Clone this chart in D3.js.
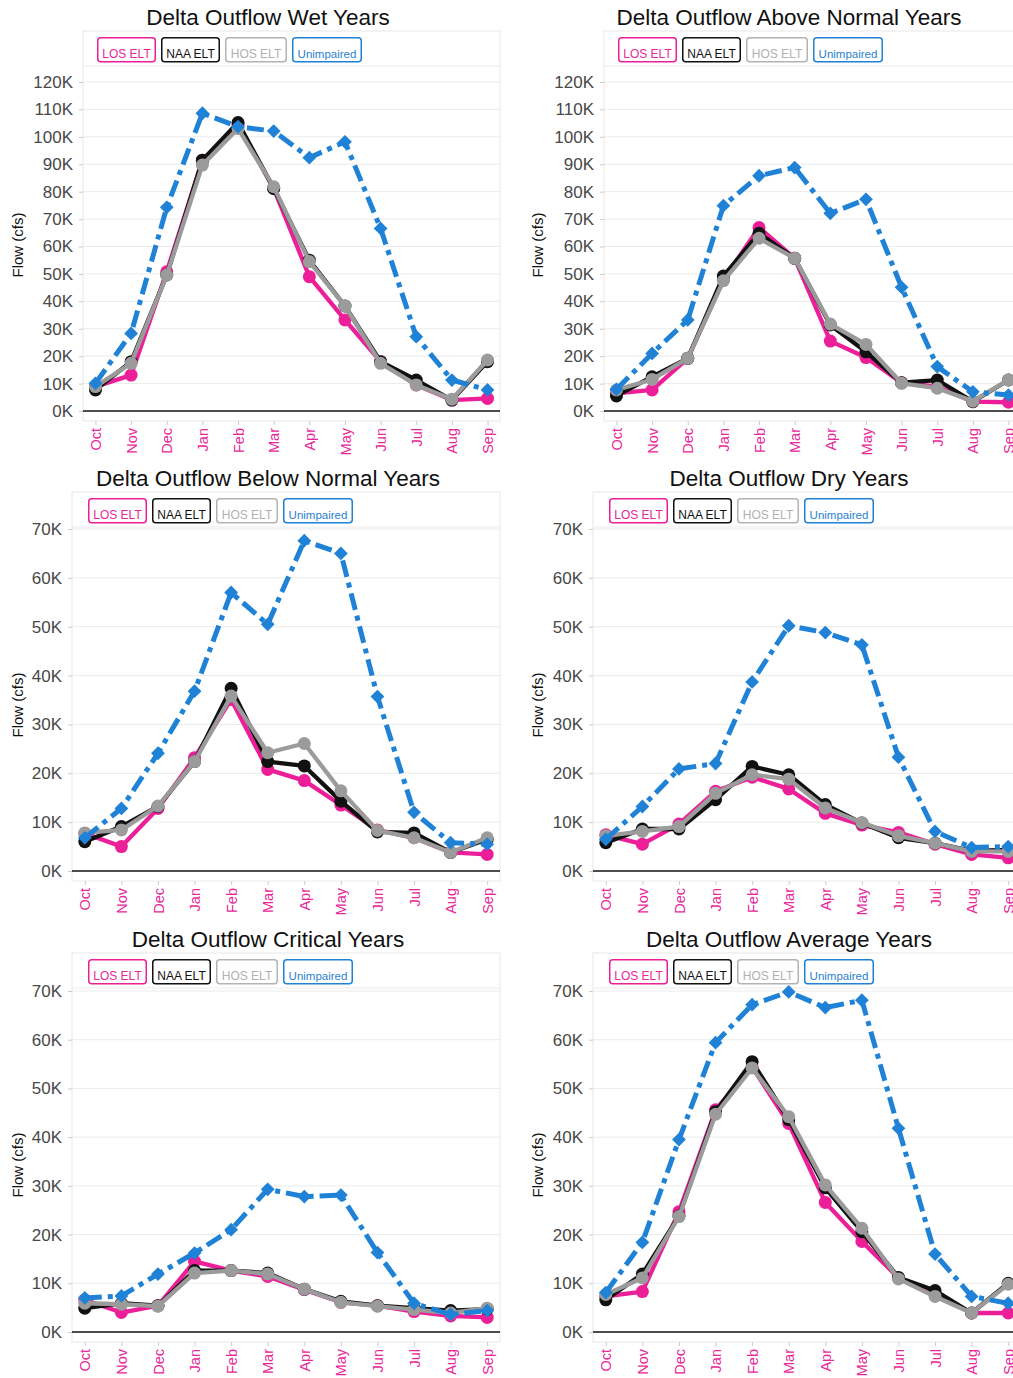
<!DOCTYPE html>
<html><head><meta charset="utf-8">
<script src="https://cdn.jsdelivr.net/npm/d3@7"></script>
<style>
html,body{margin:0;padding:0;background:#fff;overflow:hidden;}
svg{display:block;font-family:"Liberation Sans",Arial,Helvetica,sans-serif;}
</style></head><body>
<svg id="chart" width="1013" height="1378"></svg>
<script>
const months = ["Oct","Nov","Dec","Jan","Feb","Mar","Apr","May","Jun","Jul","Aug","Sep"];
const seriesNames = ["LOS ELT","NAA ELT","HOS ELT","Unimpaired"];
const seriesColors = ["#ec1f98","#111111","#9b9b9b","#1f82d6"];
const legendTextColors = ["#e8279a","#111111","#b0b0b0","#2a7fd0"];
const titles = ["Delta Outflow Wet Years","Delta Outflow Above Normal Years","Delta Outflow Below Normal Years","Delta Outflow Dry Years","Delta Outflow Critical Years","Delta Outflow Average Years"];
const yMaxes = [120,120,70,70,70,70];

// values in thousand cfs
const wetLOS = [8.9,13.1,50.8,91.5,104.3,81.2,49,33.2,18,9.5,4,4.6];
const wetNAA = [7.7,18,49.6,91.5,105.2,81.2,55,38.3,18,11.3,4,18];
const wetHOS = [8.9,17.4,49.6,89.7,103,81.8,54.5,38.3,17.4,9.5,4.3,18.6];
const wetUnimp = [10.1,28.3,74.3,108.6,103.7,102.1,92.4,98.2,66.6,27.1,11.3,7.7];

const anLOS = [6.4,7.7,19.2,47.8,66.9,55.7,25.5,19.5,10.3,8.9,3.4,3.2];
const anNAA = [5.5,12.5,19.2,49.2,64.8,55.7,31.4,21.6,10.3,11.3,3.4,11.3];
const anHOS = [7.7,11.5,19.2,47.5,63,55.7,31.7,24.3,10.1,8.3,3.6,11.3];
const anUnimp = [7.9,21,33.2,74.9,85.8,88.8,72.1,77.2,45.1,16.2,7,5.8];

const bnLOS = [7.7,5,12.8,23.2,35.1,20.8,18.5,13.5,8.4,6.8,3.8,3.4];
const bnNAA = [6,9.1,13.2,22.4,37.4,22.4,21.5,14.3,8,7.8,3.8,6.5];
const bnHOS = [7.8,8.4,13.3,22.4,35.8,24.2,26.1,16.4,8.3,6.8,3.8,6.8];
const bnUnimp = [6.8,12.8,24.1,36.8,57,50.5,67.6,65,35.7,12,5.8,5.5];

const dryLOS = [7.4,5.5,9.6,16.3,19.2,16.8,11.8,9.4,7.9,5.5,3.4,2.7];
const dryNAA = [5.8,8.6,8.6,14.6,21.4,19.7,13.6,9.8,6.8,5.7,4.1,4.3];
const dryHOS = [7.2,8.1,9.1,15.9,19.7,18.8,12.9,9.9,7.2,5.7,4,4];
const dryUnimp = [6.5,13.2,20.9,22,38.7,50.2,48.8,46.3,23.3,8.1,4.8,5];

const critLOS = [6.6,4,5.4,14.5,12.6,11.4,8.7,6.1,5.4,4.2,3.3,3];
const critNAA = [4.9,5.9,5.4,12.6,12.6,12.1,8.8,6.3,5.4,4.9,4.4,4.7];
const critHOS = [5.9,5.7,5.3,12.1,12.6,11.9,8.8,6.1,5.3,4.6,3.9,4.9];
const critUnimp = [7,7.4,11.9,16.2,21,29.3,27.8,28.1,16.3,5.9,3.6,4.4];

const avgLOS = [7.3,8.3,24.7,45.6,54.4,42.8,26.6,18.6,11.1,7.8,3.9,3.9];
const avgNAA = [6.6,11.9,23.8,45.2,55.5,43.6,29.6,20.6,11.2,8.5,3.9,10];
const avgHOS = [7.7,11.1,23.7,44.7,54.2,44.2,30.2,21.3,10.9,7.3,3.9,9.8];
const avgUnimp = [8.1,18.4,39.5,59.4,67.2,69.8,66.6,68.1,41.8,16,7.3,5.9];

const panelData = [
  [wetLOS,wetNAA,wetHOS,wetUnimp],
  [anLOS,anNAA,anHOS,anUnimp],
  [bnLOS,bnNAA,bnHOS,bnUnimp],
  [dryLOS,dryNAA,dryHOS,dryUnimp],
  [critLOS,critNAA,critHOS,critUnimp],
  [avgLOS,avgNAA,avgHOS,avgUnimp]
];

// layout (pixels)
const layout = [
  {left:83, right:500, panelTop:31, yTop:82, y0:411, titleX:268, titleY:25, legX:97, legY:37, ylabX:18, ylabY:245},
  {left:604, right:1021, panelTop:31, yTop:82, y0:411, titleX:789, titleY:25, legX:618, legY:37, ylabX:538, ylabY:245},
  {left:72, right:500, panelTop:492, yTop:529, y0:871, titleX:268, titleY:486, legX:88, legY:498, ylabX:18, ylabY:705},
  {left:593, right:1021, panelTop:492, yTop:529, y0:871, titleX:789, titleY:486, legX:609, legY:498, ylabX:538, ylabY:705},
  {left:72, right:500, panelTop:953, yTop:991, y0:1332, titleX:268, titleY:947, legX:88, legY:959, ylabX:18, ylabY:1165},
  {left:593, right:1021, panelTop:953, yTop:991, y0:1332, titleX:789, titleY:947, legX:609, legY:959, ylabX:538, ylabY:1165}
];
const legendWidths = [59,59,62,70];

const svg = d3.select("#chart");

layout.forEach((L, pi) => {
  const g = svg.append("g");
  const yMax = yMaxes[pi];
  const x = d3.scalePoint().domain(months).range([L.left, L.right]).padding(0.35);
  const y = d3.scaleLinear().domain([0, yMax]).range([L.y0, L.yTop]);
  const ticks = d3.range(0, yMax + 1, 10);
  const bottom = L.y0 + 10;

  // panel frame
  g.append("rect").attr("x", L.left).attr("y", L.panelTop)
    .attr("width", L.right - L.left).attr("height", bottom - L.panelTop)
    .attr("fill", "none").attr("stroke", "#e8e8e8").attr("stroke-width", 1);
  g.append("line").attr("x1", L.left).attr("x2", L.right)
    .attr("y1", L.legY + 29).attr("y2", L.legY + 29)
    .attr("stroke", "#ececec").attr("stroke-width", 1);

  // gridlines
  g.selectAll(".grid").data(ticks.filter(t => t > 0)).enter().append("line")
    .attr("x1", L.left).attr("x2", L.right)
    .attr("y1", d => y(d)).attr("y2", d => y(d))
    .attr("stroke", "#ebebeb").attr("stroke-width", 1);

  // y axis
  const yAxis = d3.axisLeft(y).tickValues(ticks).tickFormat(d => d + "K").tickSize(4).tickPadding(6);
  const ya = g.append("g").attr("transform", `translate(${L.left},0)`).call(yAxis);
  ya.select(".domain").remove();
  ya.selectAll(".tick line").attr("stroke", "#cccccc");
  ya.selectAll(".tick text").attr("fill", "#484848").style("font-size", "17px")
    .style("font-family", '"Liberation Sans",Arial,sans-serif');

  // x axis
  const xAxis = d3.axisBottom(x).tickSize(4).tickPadding(3);
  const xa = g.append("g").attr("transform", `translate(0,${bottom})`).call(xAxis);
  xa.select(".domain").remove();
  xa.selectAll(".tick line").attr("stroke", "#cccccc");
  xa.selectAll(".tick text").attr("fill", "#e8279a").style("font-size", "14.5px")
    .style("font-family", '"Liberation Sans",Arial,sans-serif')
    .attr("transform", "rotate(-90)").attr("text-anchor", "end")
    .attr("x", -7).attr("y", 0).attr("dy", "0.35em");

  // zero line
  g.append("line").attr("x1", L.left).attr("x2", L.right)
    .attr("y1", y(0)).attr("y2", y(0)).attr("stroke", "#111").attr("stroke-width", 1.6);

  // y label
  g.append("text").attr("transform", `translate(${L.ylabX},${L.ylabY}) rotate(-90)`)
    .attr("text-anchor", "middle").attr("dy", "0.35em")
    .style("font-size", "15px").attr("fill", "#111").text("Flow (cfs)");

  // title
  g.append("text").attr("x", L.titleX).attr("y", L.titleY).attr("text-anchor", "middle")
    .style("font-size", "22.5px").attr("fill", "#111").text(titles[pi]);

  // legend
  let lx = L.legX;
  seriesNames.forEach((name, si) => {
    const w = legendWidths[si];
    g.append("rect").attr("x", lx + 0.75).attr("y", L.legY + 0.75)
      .attr("width", w - 1.5).attr("height", 24).attr("rx", 3)
      .attr("fill", "#fff").attr("stroke", seriesColors[si] === "#9b9b9b" ? "#b3b3b3" : seriesColors[si])
      .attr("stroke-width", 1.5);
    g.append("text").attr("x", lx + w / 2).attr("y", L.legY + 21).attr("text-anchor", "middle")
      .style("font-size", si === 3 ? "11.5px" : "12px").attr("fill", legendTextColors[si]).text(name);
    lx += w + 5;
  });

  // series
  const line = d3.line().x((d, i) => x(months[i])).y(d => y(d));
  panelData[pi].forEach((vals, si) => {
    const sg = g.append("g");
    const isU = si === 3;
    sg.append("path").datum(vals).attr("d", line).attr("fill", "none")
      .attr("stroke", seriesColors[si]).attr("stroke-width", isU ? 5 : 4.3)
      .attr("stroke-linejoin", "round")
      .attr("stroke-dasharray", isU ? "17,6,5,6" : null);
    if (isU) {
      sg.selectAll("path.m").data(vals).enter().append("path").attr("class", "m")
        .attr("d", d3.symbol().type(d3.symbolSquare).size(95))
        .attr("transform", (d, i) => `translate(${x(months[i])},${y(d)}) rotate(45)`)
        .attr("fill", seriesColors[si]);
    } else {
      sg.selectAll("circle").data(vals).enter().append("circle")
        .attr("cx", (d, i) => x(months[i])).attr("cy", d => y(d)).attr("r", 6.5)
        .attr("fill", seriesColors[si]);
    }
  });
});
</script>
</body></html>
